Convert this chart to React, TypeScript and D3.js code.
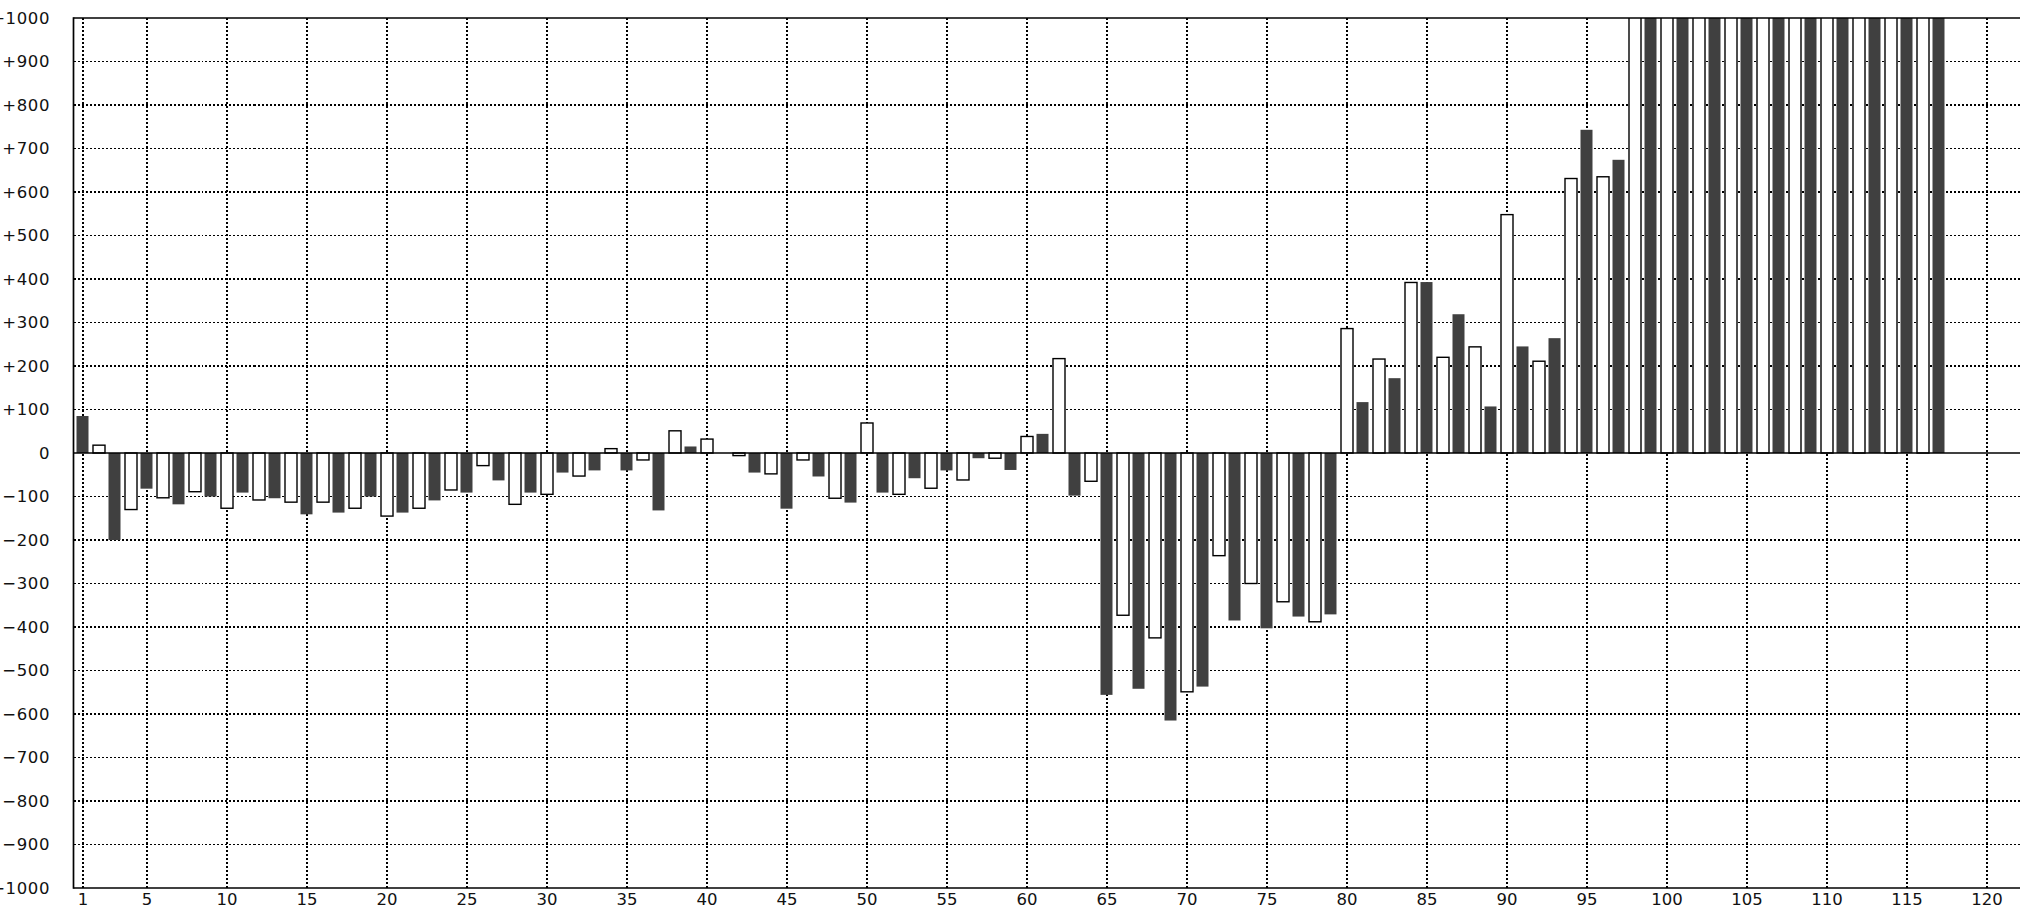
import React, { useEffect } from 'react';
import * as d3 from 'd3';

// Dark series: odd positions 1,3,5,...,117
const darkValues: number[] = [
  85, -200, -82, -118, -100, -91, -104, -141, -137, -100,
  -137, -109, -91, -63, -91, -45, -40, -40, -132, 15,
  0, -45, -128, -54, -114, -91, -58, -40, -12, -39,
  44, -98, -556, -542, -615, -537, -385, -403, -376, -371,
  117, 172, 393, 319, 107, 245, 264, 743, 674, 1150,
  1200, 1250, 1300, 1350, 1400, 1450, 1500, 1550, 1600,
];
// Light (outlined) series: even positions 2,4,...,116
const lightValues: number[] = [
  18, -130, -103, -89, -127, -108, -113, -113, -127, -145,
  -127, -85, -29, -118, -95, -53, 10, -16, 51, 32,
  -6, -48, -16, -104, 69, -95, -81, -62, -12, 38,
  217, -65, -373, -425, -549, -236, -300, -342, -388, 286,
  216, 392, 220, 244, 548, 211, 631, 635, 1100, 1150,
  1200, 1250, 1300, 1350, 1400, 1450, 1500, 1550,
];
const xTicks: number[] = [1, 5, 10, 15, 20, 25, 30, 35, 40, 45, 50, 55, 60, 65, 70, 75, 80, 85, 90, 95, 100, 105, 110, 115, 120];
const yTicks: number[] = [-1000, -900, -800, -700, -600, -500, -400, -300, -200, -100, 0, 100, 200, 300, 400, 500, 600, 700, 800, 900, 1000];

const W = 2020;
const H = 910;
const PLOT_LEFT = 73.5;
const PLOT_RIGHT = 2040;

const fmtY = (v: number) => (v > 0 ? '+' + v : v < 0 ? '\u2212' + Math.abs(v) : '0');

export default function App() {
  useEffect(() => {
    document.body.style.margin = '0';
    document.body.style.overflow = 'hidden';
  }, []);

  const x = d3.scaleLinear().domain([1, 120]).range([83, 1987]);
  const y = d3.scaleLinear().domain([-1000, 1000]).range([888, 18]);
  const top = y(1000);
  const bottom = y(-1000);
  const zero = y(0);
  const font = "'DejaVu Sans', Verdana, sans-serif";

  const darkBars = darkValues.map((v, i) => ({ p: 2 * i + 1, v }));
  const lightBars = lightValues.map((v, i) => ({ p: 2 * i + 2, v }));

  return (
    <svg width={W} height={H} style={{ position: 'absolute', left: 0, top: 0, background: '#fff', display: 'block' }}>
      <defs>
        <clipPath id="plotClip">
          <rect x={PLOT_LEFT} y={top} width={PLOT_RIGHT - PLOT_LEFT} height={bottom - top} />
        </clipPath>
      </defs>
      <rect x={0} y={0} width={W} height={H} fill="#fff" />
      {/* grid */}
      <g stroke="#000" strokeWidth={1.6} strokeDasharray="2 2" fill="none" shapeRendering="crispEdges">
        {yTicks.filter(t => t !== 0 && Math.abs(t) !== 1000).map(t => (
          <line key={'gy' + t} x1={PLOT_LEFT} x2={PLOT_RIGHT} y1={y(t)} y2={y(t)} />
        ))}
        {xTicks.map(t => (
          <line key={'gx' + t} x1={x(t)} x2={x(t)} y1={top} y2={bottom} />
        ))}
      </g>
      {/* bars */}
      <g clipPath="url(#plotClip)">
        {darkBars.map(d => (
          <rect key={'d' + d.p} x={x(d.p) - 6.5} width={12}
            y={Math.min(y(d.v), zero)} height={Math.abs(y(d.v) - zero)} fill="#404040" />
        ))}
        {lightBars.map(d => (
          <rect key={'l' + d.p} x={x(d.p) - 6} width={12}
            y={Math.min(y(d.v), zero)} height={Math.abs(y(d.v) - zero)} fill="#fff" stroke="#000" strokeWidth={1.4} />
        ))}
      </g>
      {/* axes / frame */}
      <g stroke="#000" strokeWidth={1.7} fill="none">
        <line x1={PLOT_LEFT} x2={PLOT_RIGHT} y1={zero} y2={zero} />
        <line x1={PLOT_LEFT} x2={PLOT_RIGHT} y1={top} y2={top} />
        <line x1={PLOT_LEFT} x2={PLOT_RIGHT} y1={bottom} y2={bottom} />
        <line x1={PLOT_LEFT} x2={PLOT_LEFT} y1={top - 0.85} y2={bottom + 0.85} />
      </g>
      {/* y labels */}
      <g fontFamily={font} fontSize={16.5} fill="#111" textAnchor="end">
        {yTicks.map(t => (
          <text key={'ty' + t} x={50} y={y(t)} dy="0.36em" letterSpacing={0.6}>{fmtY(t)}</text>
        ))}
      </g>
      {/* x labels */}
      <g fontFamily={font} fontSize={16.5} fill="#111" textAnchor="middle">
        {xTicks.map(t => (
          <text key={'tx' + t} x={x(t)} y={905}>{String(t)}</text>
        ))}
      </g>
    </svg>
  );
}
